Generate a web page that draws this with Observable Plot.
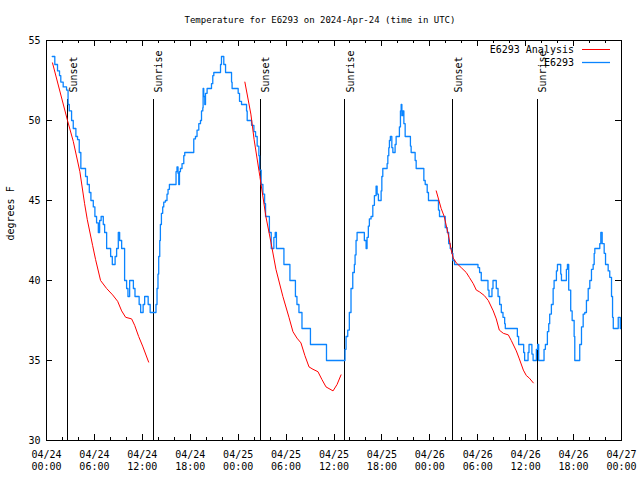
<!DOCTYPE html>
<html><head><meta charset="utf-8">
<script src="https://cdn.jsdelivr.net/npm/d3@7"></script>
<script src="https://cdn.jsdelivr.net/npm/@observablehq/plot@0.6"></script>
<style>body{margin:0;background:#fff} svg{display:block}</style>
</head><body><div id="chart"></div>
<script>
const titleText = "Temperature for E6293 on 2024-Apr-24 (time in UTC)";
const yLabel = "degrees F";
const seriesNames = ["E6293 Analysis", "E6293"];
const startUTC = Date.UTC(2024, 3, 24); // 04/24 00:00 UTC
const xTickHours = [0, 6, 12, 18, 24, 30, 36, 42, 48, 54, 60, 66, 72];
const xMinorHours = d3.range(0, 73, 2);
const yTicks = [30, 35, 40, 45, 50, 55];
const eventNames = ["Sunset", "Sunrise", "Sunset", "Sunrise", "Sunset", "Sunrise"];
const eventHours = [2.67, 13.38, 26.76, 37.34, 50.83, 61.43];

// observed station temperature (hours since 04/24 00:00 UTC, degrees F)
const stationHours = [0.72,1.04,1.38,1.63,1.79,2.09,2.51,2.70,2.85,3.14,3.35,3.68,3.89,4.10,4.30,4.89,5.11,5.36,5.56,5.86,6.06,6.27,6.49,6.65,6.84,7.11,7.28,7.53,8.03,8.24,8.59,8.78,8.99,9.16,9.41,9.78,10.03,10.20,10.41,10.88,11.08,11.60,11.79,12.10,12.29,12.73,12.98,13.71,13.84,13.96,14.05,14.18,14.26,14.39,14.55,14.68,14.89,15.09,15.22,15.39,16.22,16.34,16.47,16.56,16.65,16.77,16.97,17.19,17.31,18.44,18.65,18.85,19.07,19.28,19.41,19.57,19.61,19.69,19.82,19.91,20.11,20.66,20.82,20.95,21.79,21.91,22.20,22.42,23.17,23.24,24.00,24.17,24.42,25.05,25.13,25.68,25.97,26.18,26.38,26.59,26.68,26.88,27.10,27.31,27.43,27.91,28.14,28.47,28.64,28.79,29.73,30.48,31.17,31.36,31.61,31.99,33.05,35.06,37.38,37.51,37.72,37.92,38.13,38.35,38.55,38.64,38.76,38.89,39.80,40.02,40.14,40.30,40.43,40.64,40.86,41.06,41.27,41.40,41.56,41.90,41.99,42.11,42.65,42.74,42.86,42.94,43.06,43.24,43.37,43.65,43.78,44.19,44.32,44.41,44.50,44.62,44.75,44.91,45.57,45.66,46.16,46.29,47.25,47.42,47.67,47.83,49.08,49.21,49.93,50.18,50.36,50.55,50.74,50.89,51.09,54.03,54.23,54.44,55.28,55.41,55.78,55.91,56.32,56.54,56.74,56.95,57.16,57.37,57.45,58.96,59.12,59.75,59.87,60.30,60.42,60.78,60.93,61.34,61.50,61.63,62.30,62.47,62.72,62.89,63.01,63.22,63.44,63.56,63.85,63.98,64.39,64.48,65.10,65.23,65.39,65.64,65.82,66.07,66.15,66.77,66.99,67.20,67.40,67.61,67.83,68.03,68.24,68.45,68.58,68.66,69.28,69.41,69.58,69.83,70.00,70.33,70.53,70.75,70.88,70.97,71.59,71.85,71.95];
const stationTemps = [54.0,53.5,53.1,52.8,52.4,52.1,51.9,51.0,50.6,50.0,49.5,49.0,48.8,48.0,47.0,46.5,46.0,45.5,45.0,44.6,44.0,43.6,43.0,43.75,44.0,43.5,43.0,42.0,41.5,41.0,41.5,42.0,43.0,42.5,42.0,40.0,39.5,39.0,40.0,39.5,39.0,38.5,38.0,38.5,39.0,38.5,38.0,38.5,39.5,40.4,41.5,42.5,43.5,44.2,44.6,44.9,45.0,45.4,45.7,46.0,46.8,47.1,46.7,46.0,46.8,47.0,47.3,47.8,48.0,48.85,49.0,49.4,49.8,50.0,50.6,50.8,52.0,51.5,51.0,51.7,52.0,52.3,52.8,53.0,53.5,54.0,53.5,53.0,52.4,52.0,51.7,51.2,51.0,50.6,50.0,49.7,49.3,49.0,48.4,47.8,46.9,46.0,45.4,44.8,44.0,43.0,42.0,42.7,43.0,42.0,41.0,40.0,39.0,38.5,38.0,37.0,36.0,35.0,35.7,36.5,36.9,38.0,39.5,40.5,41.0,41.6,42.5,43.0,42.5,42.0,42.7,43.4,43.85,44.0,44.7,45.3,45.9,45.4,45.0,45.6,46.5,47.0,47.3,47.8,48.3,48.75,49.0,48.3,48.0,48.5,49.0,49.6,50.6,51.0,50.3,50.6,49.8,49.0,48.4,48.0,47.5,47.0,46.25,46.0,45.5,45.0,44.4,44.0,43.3,43.0,42.3,42.0,41.7,41.25,41.0,40.8,40.5,40.0,39.4,39.0,39.5,40.0,39.5,39.0,38.5,38.0,37.7,37.3,37.0,36.5,36.0,35.5,35.0,35.5,36.0,35.4,35.0,35.7,36.0,35.0,35.7,36.0,36.8,37.3,37.9,38.5,39.5,40.0,40.6,41.0,40.4,40.0,40.7,41.0,39.4,38.1,37.5,36.5,35.0,36.0,37.1,37.9,38.0,38.75,39.5,40.0,40.7,41.0,41.7,42.0,42.3,43.0,42.3,41.7,41.0,40.6,40.2,39.0,37.7,37.0,37.7,37.0,37.0];

// analysis series (three night-time segments, null = gap)
const analysisHours = [0.75,2.63,3.35,4.18,4.77,5.11,5.77,6.15,6.77,7.53,8.28,8.91,9.41,9.91,10.66,11.04,11.54,12.04,12.79,null,
  24.84,25.59,26.00,26.72,27.47,28.10,28.73,29.60,30.36,30.86,31.36,31.86,32.36,32.87,33.37,33.99,34.50,35.00,35.88,36.38,36.88,null,
  48.80,49.42,49.80,50.30,50.68,50.93,51.31,51.94,52.56,52.94,53.44,53.82,54.19,54.82,55.32,55.94,56.32,56.70,57.20,57.83,58.20,58.83,59.21,59.71,60.08,60.46,60.96];
const analysisTemps = [53.6,50.0,48.7,46.8,44.8,43.8,42.2,41.3,40.0,39.5,39.1,38.7,38.1,37.7,37.6,37.2,36.5,35.9,34.9,null,
  52.4,50.4,48.8,46.5,44.0,42.4,40.7,39.0,37.7,36.8,36.4,36.1,35.3,34.6,34.45,34.3,33.8,33.35,33.1,33.5,34.1,null,
  45.6,44.5,44.0,42.9,41.9,41.4,41.1,40.8,40.5,40.2,39.8,39.4,39.3,39.06,38.75,38.1,37.6,36.9,36.7,36.6,36.25,35.6,35.1,34.4,34.06,33.9,33.6];

const t = h => h == null ? null : new Date(startUTC + h * 3600000);
const station = stationHours.map((h, i) => ({time: t(h), temp: stationTemps[i]}));
const analysis = analysisHours.map((h, i) => ({time: t(h), temp: analysisTemps[i]}));
const events = eventHours.map((h, i) => ({time: t(h), name: eventNames[i]}));
const xTicks = xTickHours.map(t);
const xMinor = xMinorHours.map(t);
const fmt = d3.utcFormat("%m/%d\n%H:%M");

const W = 640, H = 480, mL = 46, mR = 19, mT = 40, mB = 40;
const pw = W - mL - mR, ph = H - mT - mB;
const FONT = "DejaVu Sans Mono";
const RED = "#ff0000", BLUE = "#0a84ff";

const chart = Plot.plot({
  width: W, height: H, marginLeft: mL, marginRight: mR, marginTop: mT, marginBottom: mB,
  style: {fontFamily: FONT, fontSize: "10px", background: "#fff", color: "#000"},
  x: {type: "utc", domain: [t(0), t(72)], axis: null},
  y: {domain: [30, 55], axis: null},
  marks: [
    Plot.tickX(xTicks, {x: d => d, insetTop: ph - 6, stroke: "#000", shapeRendering: "crispEdges"}),
    Plot.tickX(xTicks, {x: d => d, insetBottom: ph - 6, stroke: "#000", shapeRendering: "crispEdges"}),
    Plot.tickX(xMinor, {x: d => d, insetTop: ph - 3, stroke: "#000", shapeRendering: "crispEdges"}),
    Plot.tickX(xMinor, {x: d => d, insetBottom: ph - 3, stroke: "#000", shapeRendering: "crispEdges"}),
    Plot.tickY(yTicks, {y: d => d, insetRight: pw - 6, stroke: "#000", shapeRendering: "crispEdges"}),
    Plot.tickY(yTicks, {y: d => d, insetLeft: pw - 6, stroke: "#000", shapeRendering: "crispEdges"}),
    Plot.ruleX(events, {x: "time", insetTop: 59, stroke: "#000", shapeRendering: "crispEdges"}),
    Plot.text(events, {x: "time", text: "name", frameAnchor: "top", dy: 52, dx: 2, rotate: -90, textAnchor: "start", fill: "#000"}),
    Plot.line(station, {x: "time", y: "temp", stroke: BLUE, strokeWidth: 1.3, curve: "step-after"}),
    Plot.line(analysis, {x: "time", y: "temp", stroke: RED, strokeWidth: 1}),
    Plot.frame({stroke: "#000", shapeRendering: "crispEdges"}),
    Plot.text(yTicks, {y: d => d, text: d => String(d), frameAnchor: "left", textAnchor: "end", dx: -6, fill: "#000"}),
    Plot.text(xTicks, {x: d => d, text: d => fmt(d), frameAnchor: "bottom", dy: 29, lineHeight: 1.2, fill: "#000"}),
    Plot.text([yLabel], {text: d => d, frameAnchor: "left", rotate: -90, dx: -36, fill: "#000"})
  ]
});

const svg = d3.select(chart);
svg.append("text").attr("x", 320).attr("y", 20).attr("text-anchor", "middle").attr("dy", "0.35em")
  .attr("font-family", FONT).attr("font-size", 9).attr("fill", "#000").text(titleText);
const legendColors = [RED, BLUE];
seriesNames.forEach((name, i) => {
  const y = 49.5 + i * 13;
  svg.append("text").attr("x", 574).attr("y", y).attr("dy", "0.35em").attr("text-anchor", "end")
    .attr("font-family", FONT).attr("font-size", 10).attr("fill", "#000").text(name);
  svg.append("line").attr("x1", 582).attr("x2", 610).attr("y1", y).attr("y2", y)
    .attr("stroke", legendColors[i]).attr("stroke-width", i ? 1.3 : 1);
});
document.getElementById("chart").appendChild(chart);
</script>
</body></html>
